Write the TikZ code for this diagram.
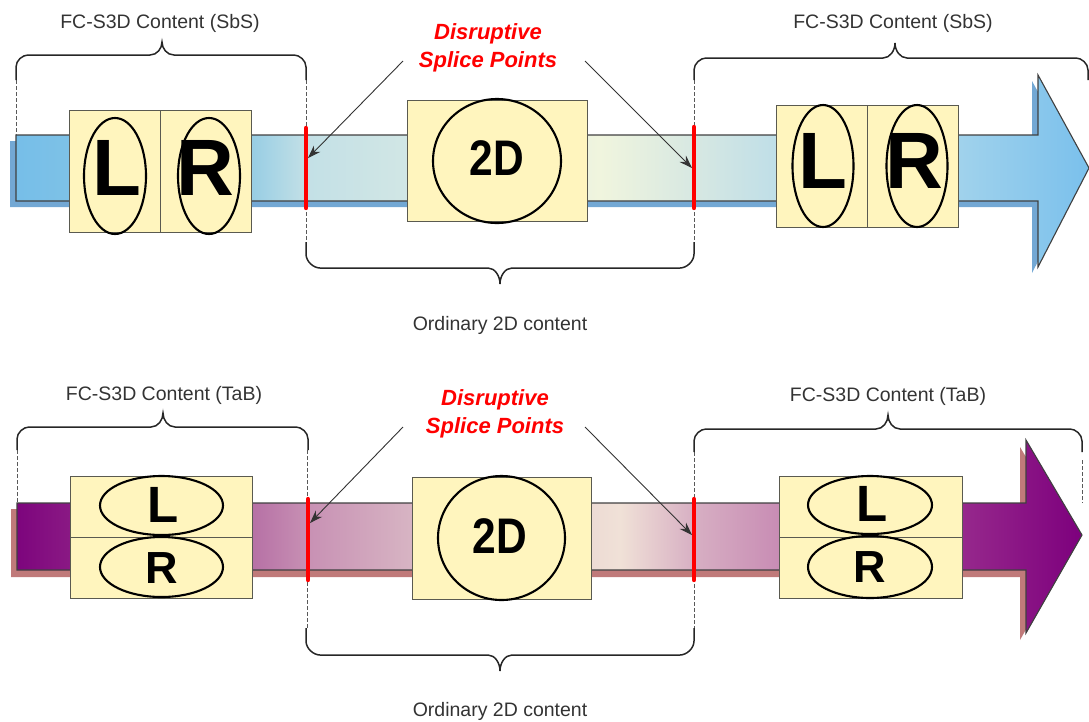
\documentclass[tikz,border=0pt]{standalone}
\usepackage{fontspec}
\setmainfont{Liberation Sans}
\usepackage{graphicx}
\usetikzlibrary{arrows.meta}
\definecolor{cream}{RGB}{255,245,190}
\definecolor{boxline}{RGB}{90,90,80}
\definecolor{tb1}{RGB}{118,190,232}
\definecolor{tb2}{RGB}{150,205,228}
\definecolor{tb3}{RGB}{195,224,230}
\definecolor{tb4}{RGB}{222,236,228}
\definecolor{tb5}{RGB}{240,245,222}
\definecolor{tb6}{RGB}{215,232,226}
\definecolor{tb7}{RGB}{190,222,232}
\definecolor{tb8}{RGB}{160,210,236}
\definecolor{tb9}{RGB}{122,192,236}
\definecolor{bb1}{RGB}{125,5,125}
\definecolor{bb2}{RGB}{138,25,132}
\definecolor{bb3}{RGB}{182,112,165}
\definecolor{bb4}{RGB}{200,145,180}
\definecolor{bb5}{RGB}{215,180,195}
\definecolor{bb6}{RGB}{240,225,215}
\definecolor{bb7}{RGB}{215,175,195}
\definecolor{bb8}{RGB}{200,140,180}
\definecolor{bb9}{RGB}{150,40,140}
\definecolor{bb10}{RGB}{125,0,125}
\definecolor{topshadow}{RGB}{115,168,212}
\definecolor{botshadow}{RGB}{192,122,122}
\definecolor{splicered}{RGB}{255,0,0}
\pgfdeclarehorizontalshading{topbar}{100bp}{color(0bp)=(tb1); color(25bp)=(tb1); color(35.9bp)=(tb2); color(38.5bp)=(tb3); color(47.5bp)=(tb4); color(52.2bp)=(tb5); color(56.6bp)=(tb6); color(60.6bp)=(tb7); color(69bp)=(tb8); color(75bp)=(tb9); color(100bp)=(tb9)}
\pgfdeclarehorizontalshading{botbar}{100bp}{color(0bp)=(bb1); color(25bp)=(bb1); color(27.5bp)=(bb2); color(36bp)=(bb3); color(38.7bp)=(bb4); color(43.5bp)=(bb5); color(53.3bp)=(bb6); color(56.8bp)=(bb7); color(60.8bp)=(bb8); color(69.4bp)=(bb9); color(75bp)=(bb10); color(100bp)=(bb10)}
\tikzset{
  panel/.style={draw=boxline, fill=cream, line width=1pt, inner sep=0pt, outer sep=0pt},
  oval/.style={draw=black, line width=2.1pt},
  barline/.style={draw=black!75, line width=1.1pt},
  guide/.style={draw=black!65, line width=0.9pt, dash pattern=on 4pt off 2pt},
  splice/.style={draw=splicered, line width=4.4pt, line cap=round},
  pointer/.style={draw=black!80, line width=0.9pt, -{Stealth[length=13pt,width=9pt]}},
  bracestyle/.style={draw=black!85, line width=1.5pt},
  lbl/.style={font=\fontsize{19.5}{22}\selectfont, text=black!80, anchor=base, inner sep=0pt},
  dsp/.style={font=\fontsize{22}{28}\selectfont\bfseries\itshape, text=splicered, align=center, inner sep=0pt},
  bigletter/.style={font=\fontsize{80}{80}\selectfont\bfseries, anchor=base, inner sep=0pt},
  midletter/.style={font=\fontsize{51}{51}\selectfont\bfseries, anchor=base, inner sep=0pt},
  smallletter/.style={font=\fontsize{45}{45}\selectfont\bfseries, anchor=base, inner sep=0pt},
  twod/.style={font=\fontsize{50}{50}\selectfont\bfseries, anchor=base, inner sep=0pt}
}
\newcommand\mybrace[7]{%
\draw[bracestyle] (#1,#4) -- (#1,{#3+#7}) .. controls (#1,{#3+0.45*#7}) and ({#1+0.55*abs(#7)},#3) .. ({#1+abs(#7)},#3) -- ({#6-12},#3) .. controls ({#6-5},#3) and (#6,{0.5*(#3+#5)}) .. (#6,#5) .. controls (#6,{0.5*(#3+#5)}) and ({#6+5},#3) .. ({#6+12},#3) -- ({#2-abs(#7)},#3) .. controls ({#2-0.55*abs(#7)},#3) and (#2,{#3+0.45*#7}) .. (#2,{#3+#7}) -- (#2,#4);}
\begin{document}
\begin{tikzpicture}[x=1pt,y=-1pt]
\useasboundingbox (0,0) rectangle (1089,721);
% ================= TOP =================
\fill[topshadow] (10,141) -- (1032,141) -- (1032,81) -- (1083,174) -- (1032,273) -- (1032,207) -- (10,207) -- cycle;
\shadedraw[shading=topbar, barline] (16,135) -- (1038,135) -- (1038,75) -- (1089,168) -- (1038,267) -- (1038,201) -- (16,201) -- cycle;
\draw[guide] (16,80) -- (16,135);
\draw[guide] (306,80) -- (306,242);
\draw[guide] (694,80) -- (694,242);
\node[panel, minimum width=91pt, minimum height=122pt] (t1l) at (114.5,171) {};
\node[panel, minimum width=91pt, minimum height=122pt] (t1r) at (205.5,171) {};
\draw[oval] (115,176) ellipse [x radius=31, y radius=58];
\draw[oval] (209,176) ellipse [x radius=31, y radius=58];
\node[bigletter] (t1L) at (117,195) {L};
\node[bigletter] (t1R) at (205,195) {R};
\node[panel, minimum width=180pt, minimum height=121pt] (t2d) at (497,160.5) {};
\draw[oval] (497,161) ellipse [x radius=64, y radius=62];
\node[twod] (t2dt) at (497,175) {\scalebox{0.85}[1]{2D}};
\node[panel, minimum width=91pt, minimum height=122pt] (t3l) at (821.5,166) {};
\node[panel, minimum width=91pt, minimum height=122pt] (t3r) at (912.5,166) {};
\draw[oval] (823,166) ellipse [x radius=30.5, y radius=61];
\draw[oval] (917,166) ellipse [x radius=30.5, y radius=61];
\node[bigletter] (t3L) at (823,188) {L};
\node[bigletter] (t3R) at (914,188) {R};
\draw[splice] (306,128) -- (306,208);
\draw[splice] (694,127) -- (694,208);
\coordinate (ts1) at (308,158);
\coordinate (ts2) at (692,168);
\node[dsp] (tdsp) at (488,48) {Disruptive\\Splice Points};
\coordinate (ta1) at (403,61);
\coordinate (ta2) at (585,61);
\draw[pointer] (ta1) -- (ts1);
\draw[pointer] (ta2) -- (ts2);
\mybrace{16}{306}{55}{80}{42}{162}{12}
\mybrace{694}{1088}{58}{80}{43}{895}{12}
\mybrace{306}{694}{268}{242}{284}{500}{-14}
\node[lbl] (tlab1) at (160,28) {FC-S3D Content (SbS)};
\node[lbl] (tlab2) at (893,28) {FC-S3D Content (SbS)};
\node[lbl] (tlab3) at (500,330) {Ordinary 2D content};
% ================= BOTTOM =================
\fill[botshadow] (11,509) -- (1020,509) -- (1020,447) -- (1076,541) -- (1020,640) -- (1020,577) -- (11,577) -- cycle;
\shadedraw[shading=botbar, barline] (17,503) -- (1026,503) -- (1026,440) -- (1082,535) -- (1026,633) -- (1026,570) -- (17,570) -- cycle;
\draw[guide] (17,450) -- (17,503);
\draw[guide] (307,450) -- (307,628);
\draw[guide] (694,452) -- (694,628);
\draw[guide] (1082,460) -- (1082,503);
\node[panel, minimum width=182pt, minimum height=61pt] (b1t) at (161,506.5) {};
\node[panel, minimum width=182pt, minimum height=61pt] (b1b) at (161,567.5) {};
\draw[oval] (161.5,505.5) ellipse [x radius=61.5, y radius=29.5];
\draw[oval] (161.5,567) ellipse [x radius=61.5, y radius=30];
\node[midletter] (b1L) at (163,522) {L};
\node[smallletter] (b1R) at (162,583) {R};
\node[panel, minimum width=179pt, minimum height=122pt] (b2d) at (501.5,538) {};
\draw[oval] (501.5,538) ellipse [x radius=63.5, y radius=62];
\node[twod] (b2dt) at (500,553) {\scalebox{0.85}[1]{2D}};
\node[panel, minimum width=183pt, minimum height=61pt] (b3t) at (870.5,506.5) {};
\node[panel, minimum width=183pt, minimum height=61pt] (b3b) at (870.5,567.5) {};
\draw[oval] (870,505) ellipse [x radius=62, y radius=29];
\draw[oval] (870,567) ellipse [x radius=62, y radius=31];
\node[midletter] (b3L) at (872,521) {L};
\node[smallletter] (b3R) at (870,582) {R};
\draw[splice] (308,499) -- (308,580);
\draw[splice] (694,499) -- (694,580);
\coordinate (bs1) at (310,523);
\coordinate (bs2) at (692,535);
\node[dsp] (bdsp) at (495,414) {Disruptive\\Splice Points};
\coordinate (ba1) at (403,427);
\coordinate (ba2) at (585,427);
\draw[pointer] (ba1) -- (bs1);
\draw[pointer] (ba2) -- (bs2);
\mybrace{17}{308}{427}{450}{413}{163}{12}
\mybrace{694}{1082}{429}{452}{415}{888}{12}
\mybrace{306}{694}{655}{628}{671}{500}{-14}
\node[lbl] (blab1) at (164,400) {FC-S3D Content (TaB)};
\node[lbl] (blab2) at (888,401) {FC-S3D Content (TaB)};
\node[lbl] (blab3) at (500,716) {Ordinary 2D content};
\end{tikzpicture}
\end{document}
